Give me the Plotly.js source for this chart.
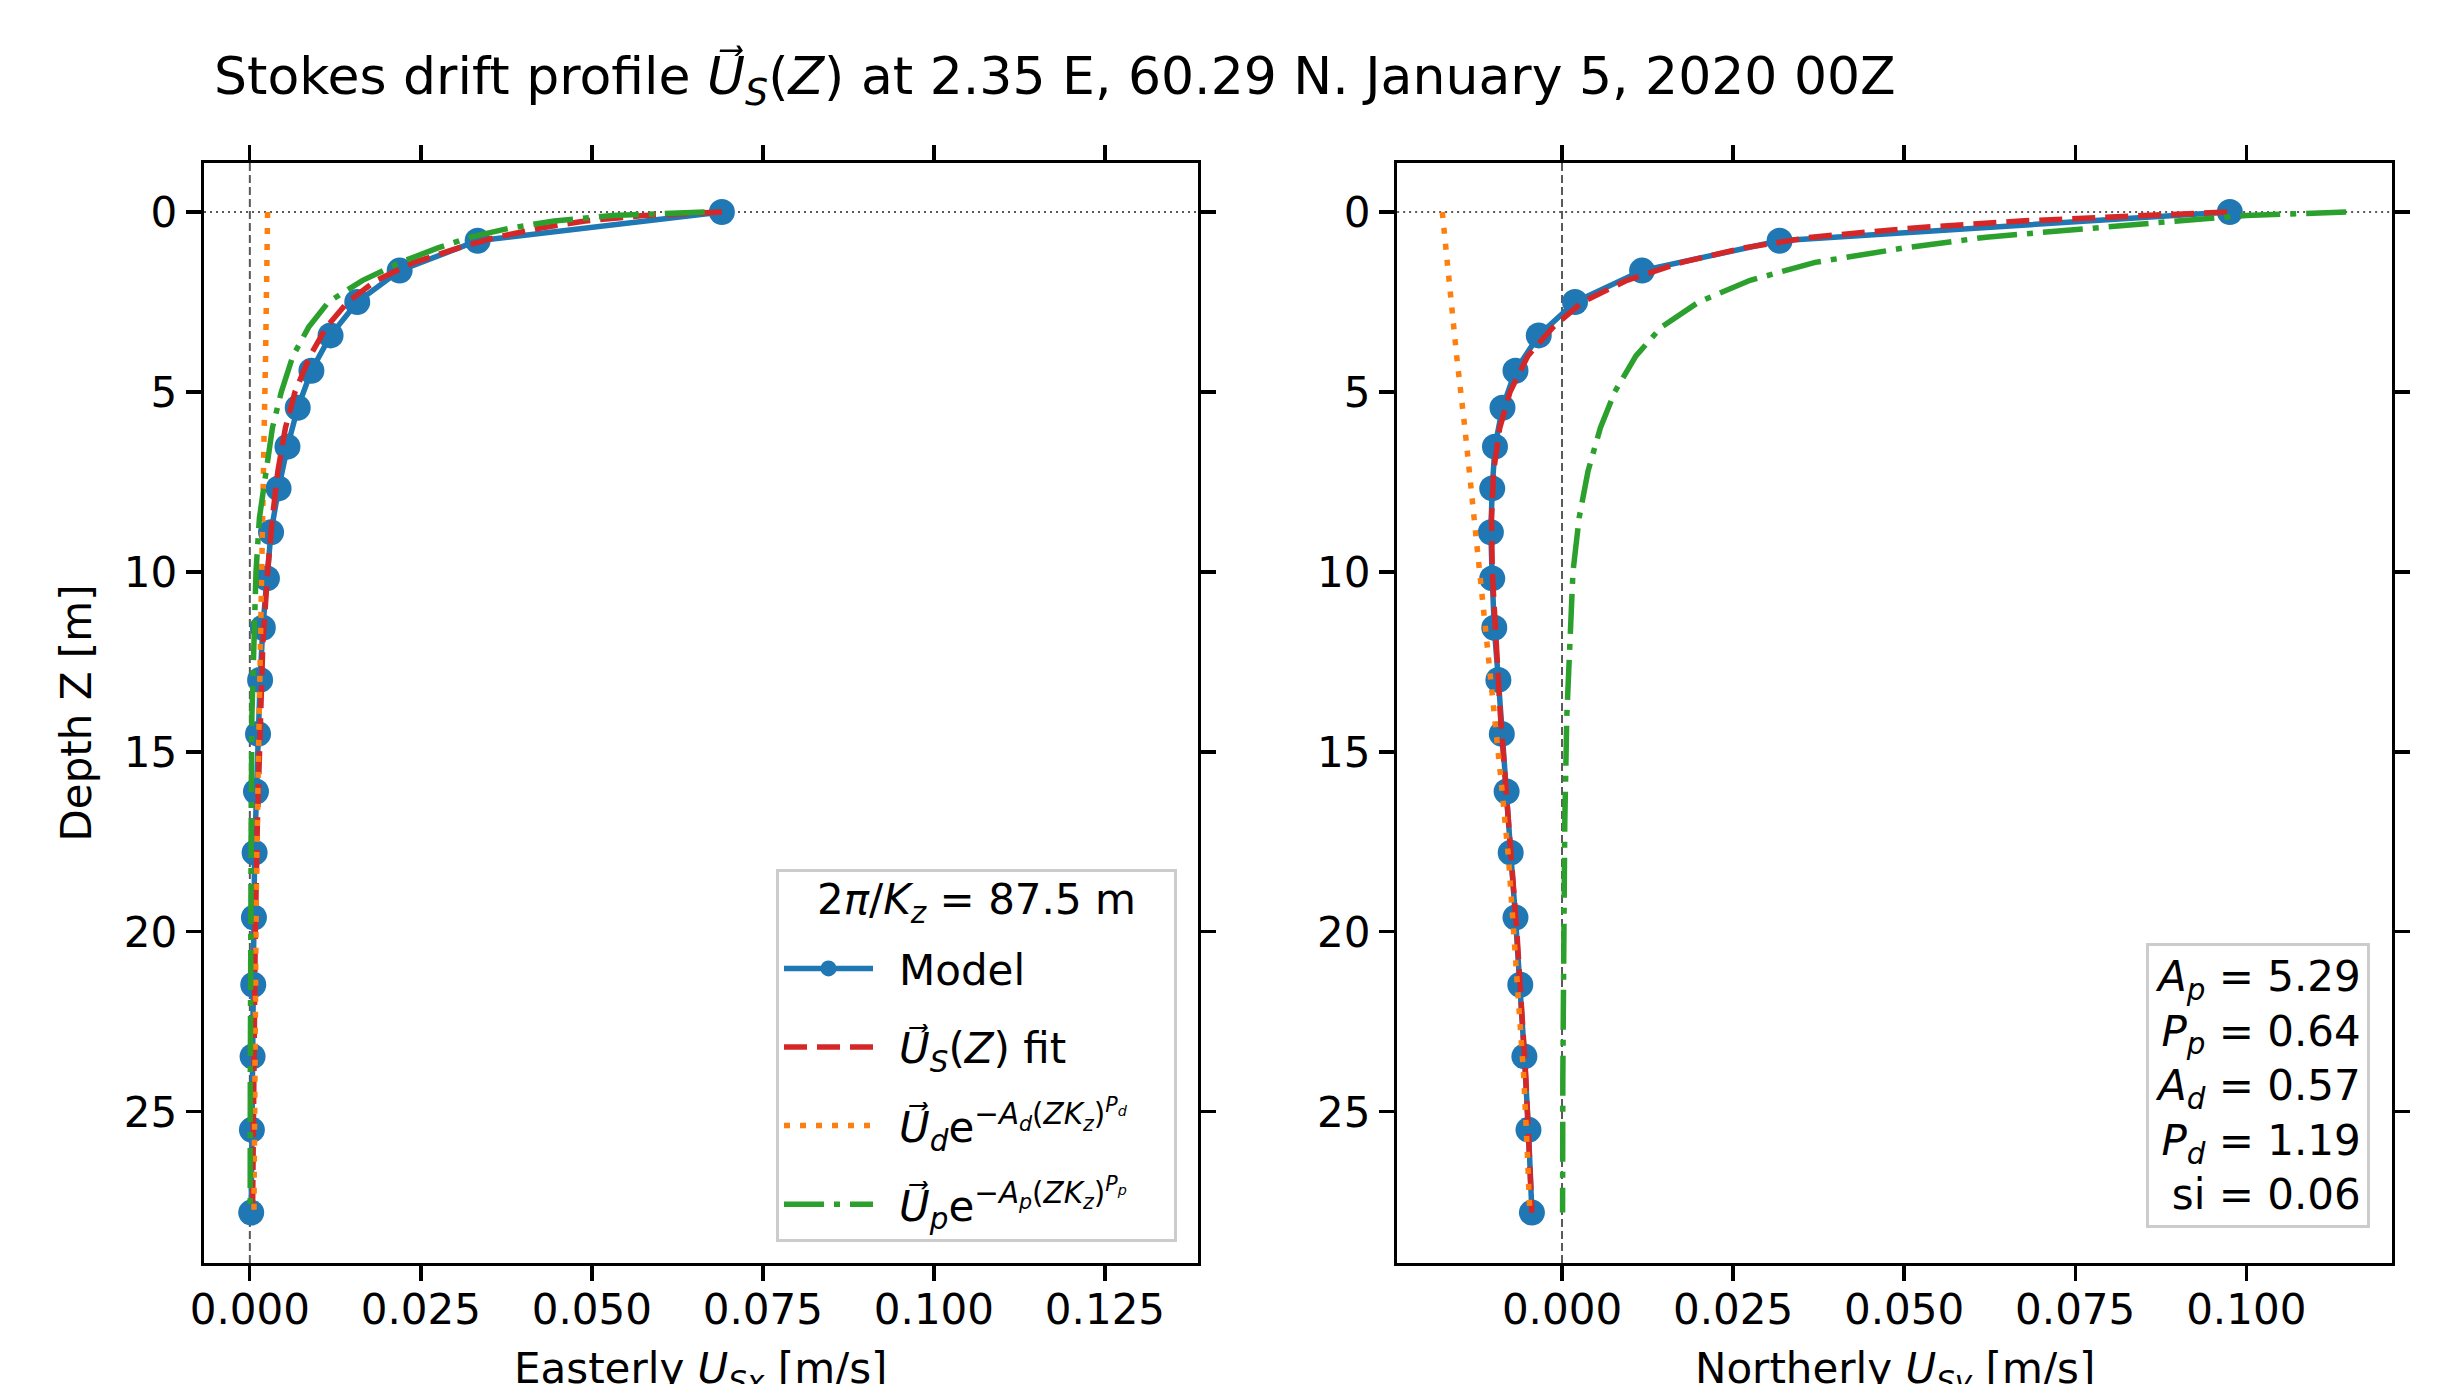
<!DOCTYPE html>
<html>
<head>
<meta charset="utf-8">
<script src="https://cdn.plot.ly/plotly-3.0.1.min.js"></script>
<style>
  html, body { margin: 0; padding: 0; background: #ffffff; }
  #chart { width: 2447px; height: 1384px; }
</style>
</head>
<body>
<div id="chart"></div>
<script>
// ---------------- data ----------------
// Model levels (depth, m)
const modelDepth = [0, 0.80, 1.63, 2.50, 3.43, 4.41, 5.44, 6.52, 7.68, 8.90, 10.18, 11.55, 13.00, 14.50, 16.10, 17.80, 19.60, 21.47, 23.46, 25.50, 27.80];
// Model Stokes drift, easterly and northerly components (m/s)
const modelEast  = [0.0690, 0.0333, 0.0219, 0.0157, 0.0118, 0.0090, 0.0070, 0.0055, 0.0042, 0.0031, 0.0025, 0.0019, 0.0015, 0.0012, 0.0009, 0.0007, 0.0006, 0.0005, 0.0004, 0.0003, 0.0002];
const modelNorth = [0.0976, 0.0318, 0.0117, 0.0019, -0.0034, -0.0068, -0.0087, -0.0098, -0.0102, -0.0104, -0.0102, -0.0099, -0.0093, -0.0088, -0.0081, -0.0075, -0.0068, -0.0061, -0.0055, -0.0049, -0.0044];

// Depths at which the fitted curves were read
const curveDepth = [0, 0.1, 0.25, 0.45, 0.7, 1.0, 1.4, 1.9, 2.5, 3.2, 4.0, 5.0, 6.0, 7.2, 8.5, 10, 12, 14, 17, 20, 24, 27.8];
// Total fit U_S(Z)
const fitEast  = [0.0690, 0.0575, 0.0490, 0.0425, 0.0360, 0.0305, 0.0240, 0.0185, 0.0143, 0.0112, 0.0088, 0.0066, 0.0052, 0.0041, 0.0033, 0.0026, 0.0019, 0.0015, 0.0011, 0.0008, 0.0006, 0.0004];
const fitNorth = [0.0972, 0.0845, 0.0670, 0.0510, 0.0365, 0.0265, 0.0175, 0.0095, 0.0030, -0.0013, -0.0050, -0.0076, -0.0091, -0.0100, -0.0103, -0.0102, -0.0097, -0.0090, -0.0078, -0.0066, -0.0053, -0.0044];
// Peak-part component U_p e^{-A_p (Z K_z)^P_p}
const peakEast  = [0.0665, 0.0530, 0.0445, 0.0380, 0.0322, 0.0275, 0.0220, 0.0165, 0.0115, 0.0086, 0.0063, 0.0046, 0.0033, 0.0023, 0.0014, 0.0009, 0.0005, 0.0003, 0.0002, 0.0001, 0.00007, 0.00005];
const peakNorth = [0.1146, 0.1000, 0.0900, 0.0770, 0.0620, 0.0500, 0.0370, 0.0275, 0.0200, 0.0145, 0.0108, 0.0077, 0.0056, 0.0038, 0.0025, 0.0016, 0.0011, 0.0007, 0.0004, 0.0002, 0.00012, 0.00008];

// Deep-part component U_d e^{-A_d (Z K_z)^P_d}
const deepDepth = [0, 2, 4, 6, 8, 10, 12, 14, 16, 18, 20, 22, 24, 26, 27.8];
const deepEast  = [0.0026, 0.0025, 0.0023, 0.0021, 0.0019, 0.0017, 0.0015, 0.0013, 0.0012, 0.0010, 0.0009, 0.0008, 0.0007, 0.0006, 0.0006];
const deepNorth = [-0.0175, -0.0165, -0.0154, -0.0142, -0.0131, -0.0120, -0.0109, -0.0098, -0.0088, -0.0078, -0.0070, -0.0062, -0.0056, -0.0051, -0.0047];

// Ticks
const xTicksEast  = [0, 0.025, 0.05, 0.075, 0.1, 0.125];
const xTicksNorth = [0, 0.025, 0.05, 0.075, 0.1];
const yTicks = [0, 5, 10, 15, 20, 25];

// Fit parameters shown in the box
const paramNames  = ['<i>A</i><sub><i>p</i></sub>', '<i>P</i><sub><i>p</i></sub>', '<i>A</i><sub><i>d</i></sub>', '<i>P</i><sub><i>d</i></sub>', 'si'];
const paramValues = ['5.29', '0.64', '0.57', '1.19', '0.06'];
const wavelength = '87.5';

// Texts
const ARROW = '\u20D7';
const titleText = 'Stokes drift profile <i>U' + ARROW + '</i><sub><i>S</i></sub>(<i>Z</i>) at 2.35 E, 60.29 N. January 5, 2020 00Z';
const seriesNames = [
  'Model',
  '<i>U' + ARROW + '</i><sub><i>S</i></sub>(<i>Z</i>) fit',
  '<i>U' + ARROW + '</i><sub><i>d</i></sub>e<sup>\u2212<i>A</i><sub><i>d</i></sub>(<i>ZK</i><sub><i>z</i></sub>)<sup><i>P</i><sub><i>d</i></sub></sup></sup>',
  '<i>U' + ARROW + '</i><sub><i>p</i></sub>e<sup>\u2212<i>A</i><sub><i>p</i></sub>(<i>ZK</i><sub><i>z</i></sub>)<sup><i>P</i><sub><i>p</i></sub></sup></sup>'
];
const legendTitle = '2<i>\u03C0</i>/<i>K</i><sub><i>z</i></sub> = ' + wavelength + ' m';
const xTitleEast  = 'Easterly <i>U</i><sub><i>Sx</i></sub> [m/s]';
const xTitleNorth = 'Northerly <i>U</i><sub><i>Sy</i></sub> [m/s]';
const yTitle = 'Depth Z [m]';

// ---------------- styling ----------------
const FONT = 'DejaVu Sans';
const C_BLUE = '#1f77b4', C_RED = '#d62728', C_ORANGE = '#ff7f0e', C_GREEN = '#2ca02c';
const LW = 5.5;
const PADL = '\u2002', PADR = '\u2002\u2002';

function panel(xa, ya, east, show) {
  const nm = i => PADL + seriesNames[i] + PADR;
  return [
    {x: east ? modelEast : modelNorth, y: modelDepth, xaxis: xa, yaxis: ya, type: 'scatter', mode: 'lines+markers',
     name: nm(0), legendgroup: 'g0', showlegend: show,
     line: {color: C_BLUE, width: LW}, marker: {color: C_BLUE, size: 26}},
    {x: east ? fitEast : fitNorth, y: curveDepth, xaxis: xa, yaxis: ya, type: 'scatter', mode: 'lines',
     name: nm(1), legendgroup: 'g1', showlegend: show,
     line: {color: C_RED, width: LW, dash: '23px,10px'}},
    {x: east ? deepEast : deepNorth, y: deepDepth, xaxis: xa, yaxis: ya, type: 'scatter', mode: 'lines',
     name: nm(2), legendgroup: 'g2', showlegend: show,
     line: {color: C_ORANGE, width: LW, dash: '6px,10px'}},
    {x: east ? peakEast : peakNorth, y: curveDepth, xaxis: xa, yaxis: ya, type: 'scatter', mode: 'lines',
     name: nm(3), legendgroup: 'g3', showlegend: show,
     line: {color: C_GREEN, width: LW, dash: '40px,10px,6px,10px'}}
  ];
}

const data = [].concat(panel('x', 'y', true, true), panel('x2', 'y2', false, false));

const axisCommon = {
  showline: true, linewidth: 3.3, linecolor: '#000', mirror: 'ticks',
  ticks: 'outside', ticklen: 15, tickwidth: 3.3, tickcolor: '#000',
  showgrid: false, zeroline: false,
  tickfont: {family: FONT, size: 42, color: '#000'}
};

const yRange = [29.2, -1.36];
const labelFont = {family: FONT, size: 42, color: '#000'};

const layout = {
  width: 2447, height: 1384,
  paper_bgcolor: '#ffffff', plot_bgcolor: '#ffffff',
  font: {family: FONT, size: 42, color: '#000'},
  margin: {l: 204, r: 55, t: 163, b: 121, pad: 0},
  showlegend: true,
  title: {
    text: titleText, xref: 'container', yref: 'container',
    x: 214 / 2447, xanchor: 'left', y: 1 - 76 / 1384, yanchor: 'middle',
    font: {family: FONT, size: 52, color: '#000'}
  },
  xaxis: Object.assign({}, axisCommon, {
    domain: [0, 0.4543], range: [-0.0067, 0.1386], anchor: 'y',
    tickvals: xTicksEast, tickformat: '.3f', ticklabelstandoff: -8
  }),
  yaxis: Object.assign({}, axisCommon, {
    domain: [0, 1], range: yRange, anchor: 'x',
    tickvals: yTicks,
    title: {text: yTitle, font: labelFont, standoff: 20}
  }),
  xaxis2: Object.assign({}, axisCommon, {
    domain: [0.5453, 1], range: [-0.0241, 0.1213], anchor: 'y2',
    tickvals: xTicksNorth, tickformat: '.3f', ticklabelstandoff: -8
  }),
  yaxis2: Object.assign({}, axisCommon, {
    domain: [0, 1], range: yRange, anchor: 'x2',
    tickvals: yTicks
  }),
  legend: {
    x: 0.4447, y: 0.0195, xanchor: 'right', yanchor: 'bottom', xref: 'paper', yref: 'paper',
    bgcolor: 'rgba(255,255,255,0.8)', bordercolor: '#cccccc', borderwidth: 3,
    font: {family: FONT, size: 42, color: '#000'},
    title: {
      text: '<sup><span style="font-size:42px">' + legendTitle + '</span></sup>',
      side: 'top center', font: {family: FONT, size: 48.5, color: '#000'}
    },
    traceorder: 'grouped', tracegroupgap: 21, itemsizing: 'trace', itemwidth: 89
  },
  annotations: [
    {
      xref: 'x2 domain', yref: 'y2 domain', x: 0.9778, y: 0.0318, xanchor: 'right', yanchor: 'bottom',
      text: paramNames.map((n, i) => n + ' = ' + paramValues[i]).join('<br>'),
      align: 'right', showarrow: false,
      font: {family: FONT, size: 42, color: '#000'},
      bgcolor: 'rgba(255,255,255,0.8)', bordercolor: '#cccccc', borderwidth: 3, borderpad: 6
    },
    // x-axis labels (placed like the reference, partly below the frame edge)
    {xref: 'x domain', yref: 'paper', x: 0.5, y: 0, xanchor: 'center', yanchor: 'middle', yshift: -108,
     text: xTitleEast, showarrow: false, font: labelFont},
    {xref: 'x2 domain', yref: 'paper', x: 0.5, y: 0, xanchor: 'center', yanchor: 'middle', yshift: -108,
     text: xTitleNorth, showarrow: false, font: labelFont}
  ],
  shapes: [
    // reference lines at zero velocity and zero depth
    {type: 'line', xref: 'x', yref: 'y domain', x0: 0, x1: 0, y0: 0, y1: 1, line: {color: 'rgba(0,0,0,0.65)', width: 2, dash: '8px,4px'}, layer: 'below'},
    {type: 'line', xref: 'x domain', yref: 'y', x0: 0, x1: 1, y0: 0, y1: 0, line: {color: 'rgba(0,0,0,0.65)', width: 2, dash: '2px,4px'}, layer: 'below'},
    {type: 'line', xref: 'x2', yref: 'y2 domain', x0: 0, x1: 0, y0: 0, y1: 1, line: {color: 'rgba(0,0,0,0.65)', width: 2, dash: '8px,4px'}, layer: 'below'},
    {type: 'line', xref: 'x2 domain', yref: 'y2', x0: 0, x1: 1, y0: 0, y1: 0, line: {color: 'rgba(0,0,0,0.65)', width: 2, dash: '2px,4px'}, layer: 'below'}
  ]
};

Plotly.newPlot('chart', data, layout, {displayModeBar: false, responsive: false, staticPlot: true});
</script>
</body>
</html>
